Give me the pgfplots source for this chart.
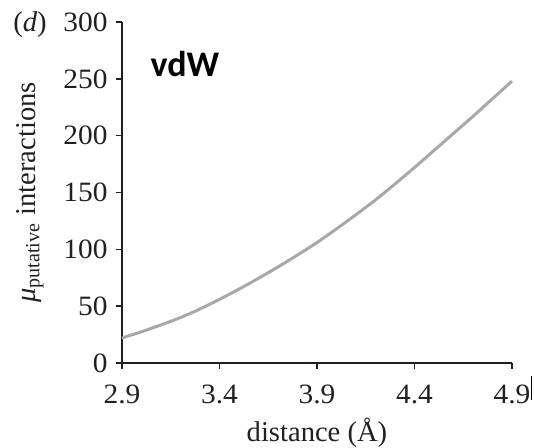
\documentclass[border=0pt]{standalone}
\usepackage{fontspec}
\setmainfont{Liberation Serif}
\newfontfamily\calibri{Carlito}
\usepackage{pgfplots}
\pgfplotsset{compat=1.18}

\definecolor{curvegray}{HTML}{A8A8A8}
\definecolor{inkdark}{HTML}{231F20}

\begin{document}
\begin{tikzpicture}
% fixed page frame, 534x448 at 0.5pt per pixel, axis box lower-left at origin
\path[use as bounding box] (-61pt,-42.5pt) rectangle (206pt,181.5pt);
\begin{axis}[
  at={(0,0)}, anchor=south west,
  scale only axis,
  width=195pt, height=170.5pt,
  xmin=2.9, xmax=4.9,
  ymin=0, ymax=300,
  xtick={2.9,3.4,3.9,4.4,4.9},
  ytick={0,50,100,150,200,250,300},
  xticklabels={2.9,3.4,3.9,4.4,4.9},
  axis x line*=bottom,
  axis y line*=left,
  axis line style={inkdark, line width=0.8pt},
  tick style={inkdark, line width=0.8pt},
  tick align=outside,
  major tick length=3pt,
  /pgf/number format/assume math mode=true,
  tick label style={font=\fontsize{14}{16}\selectfont, text=inkdark, xscale=1.05},
  xticklabel style={yshift=-4.5pt},
  yticklabel style={xshift=-0.5pt},
  label style={font=\fontsize{14.3}{17}\selectfont, text=inkdark},
  xlabel={distance (Å)},
  xlabel style={at={(axis description cs:0.5,-0.229)}, anchor=base},
  ylabel={\textit{μ}\textsubscript{putative} interactions},
  ylabel style={at={(axis description cs:-0.236,0.5)}, anchor=center},
  clip=false,
]
\addplot[curvegray, line width=1.5pt, smooth] coordinates {
  (2.9,22) (3.0,27.5) (3.1,33.5) (3.2,40) (3.3,47.5) (3.4,56)
  (3.5,65) (3.6,74.5) (3.7,84.5) (3.8,95) (3.9,106) (4.0,118)
  (4.1,130.5) (4.2,143.5) (4.3,157.5) (4.4,172) (4.5,187)
  (4.6,202) (4.7,217) (4.8,232.5) (4.9,248)
};
\end{axis}
\node[text=inkdark, font=\fontsize{14.3}{17}\selectfont] at (-46pt,169.4pt) {(\textit{d})};
\node[font=\calibri\bfseries\fontsize{18}{20}\selectfont] at (31.5pt,149.25pt) {vdW};
\draw[black, line width=0.5pt] (204.5pt,-6.55pt) -- (204.5pt,-18.75pt);
\end{tikzpicture}
\end{document}
